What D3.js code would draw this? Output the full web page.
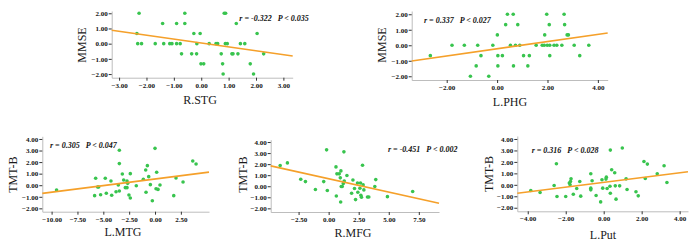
<!DOCTYPE html>
<html>
<head>
<meta charset="utf-8">
<script src="https://cdn.jsdelivr.net/npm/d3@7"></script>
<style>
  html, body { margin: 0; padding: 0; background: #fff; }
  svg { display: block; }
  .tick text { font-family: "Liberation Serif", "Times New Roman", serif; font-weight: bold; }
</style>
</head>
<body>
<div id="chart"></div>
<script>
// ---------------------------------------------------------------------------
// Data (z-scores)
// ---------------------------------------------------------------------------
const stgX = [-2.27, -2.35, -2.32, -2.18, -1.68, -1.41, -1.37, -1.15, -1.07, -0.90, -0.90, -0.77, -0.72, -0.60, -0.60,
              -0.35, -0.27, -0.16, -0.17, -0.04, -0.01, 0.09, 0.29, 0.54, 0.60, 0.73, 0.78, 0.80, 0.84, 0.89,
              0.88, 0.95, 1.12, 1.16, 1.28, 1.34, 1.43, 1.59, 1.79, 1.91, 2.04, 2.28];
const stgY = [2, 0.67, 0, 0, 0, 1.33, 0, 0, 0, 1.33, 0, 0, -0.67, 2, 1.33,
              -0.67, 0.67, 0, -0.67, 0.67, -1.33, -1.33, 0, 0, 0, -0.67, -1.33, -2, 2, 2,
              0, 0, -0.67, -0.67, 1.33, -0.67, 0, 0, -1.33, -2, 0.67, -0.67];

const phgX = [-2.65, -1.79, -1.30, -1.06, -0.83, -0.77, -0.64, -0.33, -0.17, 0.01, 0.03, 0.03, 0.21, 0.34, 0.41,
              0.53, 0.64, 0.65, 0.73, 0.82, 0.90, 1.05, 1.22, 1.28, 1.55, 1.79, 1.87, 1.89, 1.97, 1.99,
              2.07, 2.09, 2.09, 2.26, 2.37, 2.57, 2.66, 2.68, 2.78, 2.83, 3.06, 3.28, 3.64];
const phgY = [-0.67, 0, 0, -2, -1.33, 0, -0.67, -2, 0, 0.67, -0.67, -1.33, -0.67, 1.33, 2,
              0, 2, -1.33, 0, 1.33, 0, -0.67, -1.33, -0.67, 0, 0, 0, 0.67, 2, 0,
              1.33, 0, -0.67, 0, 0, 0, 2, 1.33, 0.67, 0.67, 0, -0.67, 0];

const mtgX = [-9.52, -5.84, -5.74, -5.55, -5.45, -5.26, -4.81, -4.71, -4.26, -4.19, -3.77, -3.55, -3.45, -3.45, -3.45,
              -3.16, -3.03, -2.87, -2.71, -2.71, -2.65, -2.52, -2.39, -2.39, -1.81, -1.13, -0.90, -0.87, -0.74, -0.61,
              -0.45, -0.26, 0.00, 0.10, 0.16, 0.29, 0.48, 1.81, 2.03, 2.71, 3.65, 3.97];
const mtgY = [-0.41, -0.90, 0.60, -0.15, -0.15, -0.82, 0.60, -0.70, 0.37, -0.87, -0.56, 0.02, 3.02, -0.50, 1.87,
              0.97, 0.45, -0.21, 0.37, -0.21, 0.16, -0.85, -1.10, 1.00, -0.04, 0.51, 1.32, -0.61, 1.69, 0.74,
              0.05, -1.34, 3.19, -0.30, 1.12, -0.36, 0.02, -0.90, 0.63, 0.28, 2.09, 1.83];

const mfgX = [-4.03, -3.43, -2.32, -1.93, -1.10, -0.41, -0.17, -0.11, 0.61, 0.64, 0.69, 0.88, 0.97, 1.00, 1.02,
              1.05, 1.13, 1.22, 1.27, 1.30, 1.52, 1.91, 2.02, 2.15, 2.24, 2.40, 2.43, 2.60, 2.65, 2.68,
              2.73, 2.82, 2.87, 2.93, 3.23, 3.34, 3.84, 3.92, 4.89, 6.99];
const mfgY = [1.87, 2.11, 0.63, 0.42, -0.30, 0.42, 3.29, -0.39, 1.75, -0.88, 1.12, 1.12, 0.76, -1.42, 1.39,
              -0.03, -0.03, 0.24, 3.11, 0.48, 0.97, -0.63, 0.57, -0.21, -1.21, 0.30, -0.54, -0.18, 0.30, -0.82,
              -1.00, 1.90, 0.12, -0.33, -0.97, -0.97, -0.03, 0.60, -0.94, -0.48];

const putX = [-3.84, -3.35, -2.61, -2.49, -2.46, -2.00, -1.81, -1.77, -1.75, -1.72, -1.60, -1.42, -1.26, -1.21, -0.68,
              -0.68, -0.68, -0.61, -0.40, -0.16, -0.09, -0.05, 0.12, 0.14, 0.18, 0.33, 0.35, 0.35, 0.42, 0.58,
              0.61, 0.65, 0.84, 0.98, 1.18, 1.23, 1.70, 1.82, 2.12, 2.19, 2.30, 2.82, 3.18, 3.33];
const putY = [-0.50, -0.67, -0.06, 1.84, -1.02, -1.02, 0.15, 0.00, 0.29, 0.52, -0.82, -0.32, 0.29, -0.99, 0.96,
              -0.29, -0.44, 0.35, -0.93, -1.49, 0.44, -0.29, 0.50, 0.67, -0.32, -0.12, -0.73, 3.03, 1.31, 1.05,
              -0.09, -1.25, -0.09, 3.21, 0.52, -0.41, -0.61, -0.96, 2.04, 0.55, 1.81, 0.96, 1.66, 0.20];

// Fitted lines: [intercept, slope]
const stgFit = [0.044, -0.255];
const phgFit = [-0.224, 0.232];
const mtgFit = [0.54, 0.114];
const mfgFit = [0.676, -0.242];
const putFit = [0.214, 0.208];

// Tick values
const stgTicksX = [-3, -2, -1, 0, 1, 2, 3];
const phgTicksX = [-2, 0, 2, 4];
const mtgTicksX = [-10, -7.5, -5, -2.5, 0, 2.5];
const mfgTicksX = [-2.5, 0, 2.5, 5, 7.5];
const putTicksX = [-4, -2, 0, 2, 4];
const mmseTicksY = [-2, -1, 0, 1, 2];
const tmtTicksY = [-2, -1, 0, 1, 2, 3, 4];

// Labels
const xTitles = ['R.STG', 'L.PHG', 'L.MTG', 'R.MFG', 'L.Put'];
const yTitles = ['MMSE', 'MMSE', 'TMT-B', 'TMT-B', 'TMT-B'];
const statTexts = [
    'r = -0.322   P < 0.035',
    'r = 0.337   P < 0.027',
    'r = 0.305   P < 0.047',
    'r = -0.451   P < 0.002',
    'r = 0.316   P < 0.028'
];

// ---------------------------------------------------------------------------
// Panel layout (pixels)
// ---------------------------------------------------------------------------
const panels = [
    { xs: stgX, ys: stgY, fit: stgFit, xTicks: stgTicksX, yTicks: mmseTicksY,
      left: 111.7, right: 292.7, top: 11, bottom: 77.7,
      xDomain: [-3.27, 3.34], yDomain: [-2.24, 2.15],
      xTitle: [200, 103.5], yTitle: [86, 45], stat: [239.3, 21] },
    { xs: phgX, ys: phgY, fit: phgFit, xTicks: phgTicksX, yTicks: mmseTicksY,
      left: 411.7, right: 607.7, top: 11, bottom: 80,
      xDomain: [-3.39, 4.39], yDomain: [-2.24, 2.21],
      xTitle: [510, 106], yTitle: [385.7, 45], stat: [424, 23] },
    { xs: mtgX, ys: mtgY, fit: mtgFit, xTicks: mtgTicksX, yTicks: tmtTicksY,
      left: 42.3, right: 209, top: 136.3, bottom: 211.7,
      xDomain: [-10.9, 5.22], yDomain: [-2.29, 4.23],
      xTitle: [123, 235.5], yTitle: [16.7, 174.7], stat: [50, 148] },
    { xs: mfgX, ys: mfgY, fit: mfgFit, xTicks: mfgTicksX, yTicks: tmtTicksY,
      left: 270.7, right: 439, top: 139.7, bottom: 212,
      xDomain: [-4.82, 9.18], yDomain: [-2.33, 4.21],
      xTitle: [353, 237], yTitle: [246.7, 174.7], stat: [388, 152] },
    { xs: putX, ys: putY, fit: putFit, xTicks: putTicksX, yTicks: tmtTicksY,
      left: 517.3, right: 688, top: 136, bottom: 211.3,
      xDomain: [-4.55, 4.44], yDomain: [-2.31, 4.26],
      xTitle: [603, 238.7], yTitle: [493.3, 174], stat: [531.7, 153] }
];

const svg = d3.select('#chart')
    .append('svg')
    .attr('width', 700)
    .attr('height', 246);

const serif = '"Liberation Serif", "Times New Roman", serif';

panels.forEach((p, i) => {
    const x = d3.scaleLinear().domain(p.xDomain).range([p.left, p.right]);
    const y = d3.scaleLinear().domain(p.yDomain).range([p.bottom, p.top]);

    // axes
    const gx = svg.append('g')
        .attr('transform', `translate(0,${p.bottom})`)
        .call(d3.axisBottom(x).tickValues(p.xTicks).tickFormat(d3.format('.2f'))
            .tickSize(3).tickSizeOuter(0).tickPadding(2));
    const gy = svg.append('g')
        .attr('transform', `translate(${p.left},0)`)
        .call(d3.axisLeft(y).tickValues(p.yTicks).tickFormat(d3.format('.2f'))
            .tickSize(3).tickSizeOuter(0).tickPadding(1));

    [gx, gy].forEach(g => {
        g.select('.domain').attr('stroke', '#bdbdbd').attr('stroke-width', 1);
        g.selectAll('.tick line').attr('stroke', '#333');
        g.selectAll('.tick text')
            .attr('fill', '#111')
            .style('font-size', '7px');
    });

    // points
    svg.append('g')
        .selectAll('circle')
        .data(p.xs.map((v, k) => [v, p.ys[k]]))
        .enter()
        .append('circle')
        .attr('cx', d => x(d[0]))
        .attr('cy', d => y(d[1]))
        .attr('r', 1.8)
        .attr('fill', '#38c44e');

    // fit line
    const x0 = p.xDomain[0], x1 = p.xDomain[1];
    svg.append('line')
        .attr('x1', x(x0)).attr('y1', y(p.fit[0] + p.fit[1] * x0))
        .attr('x2', x(x1)).attr('y2', y(p.fit[0] + p.fit[1] * x1))
        .attr('stroke', '#f5a02a')
        .attr('stroke-width', 1.6);

    // axis titles
    svg.append('text')
        .attr('x', p.xTitle[0])
        .attr('y', p.xTitle[1])
        .attr('text-anchor', 'middle')
        .style('font-family', serif)
        .style('font-size', '12px')
        .attr('fill', '#1a1a1a')
        .text(xTitles[i]);

    svg.append('text')
        .attr('transform', `translate(${p.yTitle[0]},${p.yTitle[1]}) rotate(-90)`)
        .attr('text-anchor', 'middle')
        .style('font-family', serif)
        .style('font-size', '12px')
        .attr('fill', '#1a1a1a')
        .text(yTitles[i]);

    // statistics
    svg.append('text')
        .attr('x', p.stat[0])
        .attr('y', p.stat[1])
        .attr('xml:space', 'preserve')
        .style('font-family', serif)
        .style('font-size', '8px')
        .style('font-weight', 'bold')
        .style('font-style', 'italic')
        .style('white-space', 'pre')
        .attr('fill', '#111')
        .text(statTexts[i]);
});
</script>
</body>
</html>
